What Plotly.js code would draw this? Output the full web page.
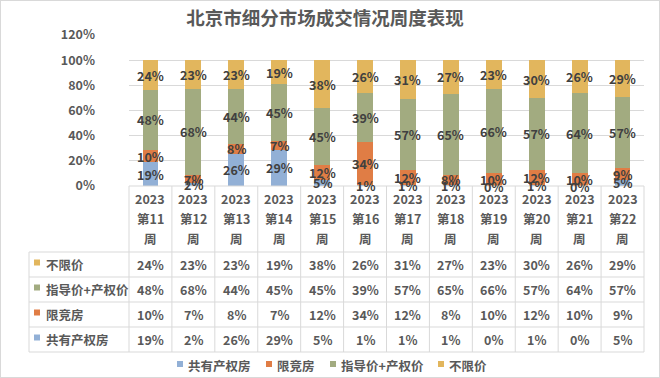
<!DOCTYPE html>
<html><head><meta charset="utf-8">
<script src="https://cdn.plot.ly/plotly-3.0.1.min.js"></script>
<style>
html,body{margin:0;padding:0;background:#fff}
#wrap{position:relative;width:660px;height:378px}
#frame{position:absolute;left:0;top:0;width:660px;height:378px;box-sizing:border-box;border:1px solid #D9D9D9;pointer-events:none}
</style>
</head><body><div id="wrap"><div id="chart"></div><div id="frame"></div></div>
<script>
// ---- data ----
const categories = ['2023第11周','2023第12周','2023第13周','2023第14周','2023第15周','2023第16周','2023第17周','2023第18周','2023第19周','2023第20周','2023第21周','2023第22周'];
const seriesNames = ['共有产权房','限竞房','指导价+产权价','不限价'];
const gongyou  = [19, 2,26,29, 5, 1, 1, 1, 0, 1, 0, 5];
const xianjing = [10, 7, 8, 7,12,34,12, 8,10,12,10, 9];
const zhidao   = [48,68,44,45,45,39,57,65,66,57,64,57];
const buxian   = [24,23,23,19,38,26,31,27,23,30,26,29];
const yTicks = [0,20,40,60,80,100,120];

// ---- style ----
const colors = ['#92B0D6','#E07D45','#A2AB80','#E2B65D'];
const FONT = '"Noto Sans CJK SC","Noto Sans",sans-serif';
const W=660,H=378,mL=129,mR=16,mT=35,mB=192;
const pw=W-mL-mR, ph=H-mT-mB;
const px2x = p => (p-mL)/pw;
const py2y = p => (H-mB-p)/ph;
const lineCol = '#D9D9D9';
const txtCol = '#595959';

const seriesVals = [gongyou, xianjing, zhidao, buxian];
const idx = categories.map((c,i)=>i);

const traces = seriesVals.map((vals,k)=>({
  type:'bar', x: idx, y: vals, name: seriesNames[k],
  marker:{color:colors[k], line:{width:0}}, hoverinfo:'skip', showlegend:false
}));

const annotations = [];
const shapes = [];

// data labels inside segments
idx.forEach(i=>{
  const total = seriesVals.reduce((s,v)=>s+v[i],0);
  let cum = 0;
  seriesVals.forEach((vals,k)=>{
    const v = vals[i];
    annotations.push({xref:'x', yref:'y', x:i, y:(cum+v/2)/total*100, text:v+'%', showarrow:false,
      font:{family:FONT,size:12.5,color:'#404040',weight:'bold'}, xanchor:'center', yanchor:'middle'});
    cum += v;
  });
});

// table header (category labels)
const headerY = [198,218,238];
categories.forEach((c,i)=>{
  const m = c.match(/^(\d{4})(第\d+)(周)$/);
  [m[1],m[2],m[3]].forEach((t,j)=>{
    annotations.push({xref:'x', yref:'paper', x:i, y:py2y(headerY[j]), text:t, showarrow:false,
      font:{family:FONT,size:12.5,color:txtCol,weight:'bold'}, xanchor:'center', yanchor:'middle'});
  });
});

// table rows (top to bottom: 不限价, 指导价+产权价, 限竞房, 共有产权房)
const rowCenters = [264.5,289.5,314.5,339.5];
const rowOrder = [3,2,1,0];
rowOrder.forEach((k,r)=>{
  const yc = py2y(rowCenters[r]);
  shapes.push({type:'rect', xref:'paper', yref:'paper', x0:px2x(34), x1:px2x(40), y0:py2y(rowCenters[r]-5), y1:py2y(rowCenters[r]+1), fillcolor:colors[k], line:{width:0}});
  annotations.push({xref:'paper', yref:'paper', x:px2x(44), y:yc, text:seriesNames[k], showarrow:false,
    font:{family:FONT,size:12.5,color:txtCol,weight:'bold'}, xanchor:'left', yanchor:'middle'});
  seriesVals[k].forEach((v,i)=>{
    annotations.push({xref:'x', yref:'paper', x:i, y:yc, text:v+'%', showarrow:false,
      font:{family:FONT,size:12.5,color:txtCol,weight:'bold'}, xanchor:'center', yanchor:'middle'});
  });
});

// table grid lines
for(let c=0;c<=categories.length;c++){
  shapes.push({type:'line', xref:'paper', yref:'paper', x0:c/categories.length, x1:c/categories.length, y0:py2y(186), y1:py2y(352), line:{color:lineCol,width:1}});
}
shapes.push({type:'line', xref:'paper', yref:'paper', x0:px2x(29), x1:px2x(29), y0:py2y(252), y1:py2y(352), line:{color:lineCol,width:1}});
[252,277,302,327,352].forEach(p=>{
  shapes.push({type:'line', xref:'paper', yref:'paper', x0:px2x(29), x1:1, y0:py2y(p), y1:py2y(p), line:{color:lineCol,width:1}});
});
shapes.push({type:'line', xref:'paper', yref:'paper', x0:0, x1:1, y0:0, y1:0, line:{color:lineCol,width:1}});

// legend (bottom)
const legendSq = [177,266,330,438];
const legendY = 365;
seriesNames.forEach((n,k)=>{
  shapes.push({type:'rect', xref:'paper', yref:'paper', x0:px2x(legendSq[k]), x1:px2x(legendSq[k]+6), y0:py2y(legendY-4), y1:py2y(legendY+2), fillcolor:colors[k], line:{width:0}});
  annotations.push({xref:'paper', yref:'paper', x:px2x(legendSq[k]+9), y:py2y(legendY), text:n, showarrow:false,
    font:{family:FONT,size:12.5,color:txtCol,weight:'bold'}, xanchor:'left', yanchor:'middle'});
});

const layout = {
  width:W, height:H, margin:{l:mL,r:mR,t:mT,b:mB,pad:0},
  paper_bgcolor:'#fff', plot_bgcolor:'#fff',
  title:{text:'北京市细分市场成交情况周度表现', x:325/W, xanchor:'center', y:1-19/H, yanchor:'middle', yref:'container',
    font:{family:FONT,size:18.5,color:txtCol,weight:'bold'}},
  barmode:'stack', barnorm:'percent', bargap:0.63,
  xaxis:{type:'linear', range:[-0.5,categories.length-0.5], showticklabels:false, showgrid:false, zeroline:false, showline:false, ticks:'', fixedrange:true},
  yaxis:{range:[0,120], tickvals:yTicks, ticktext:yTicks.map(v=>v+'%'), showgrid:true, gridcolor:lineCol, gridwidth:1,
    zeroline:false, showline:false, ticks:'', ticklabelstandoff:33,
    tickfont:{family:FONT,size:12.5,color:txtCol,weight:'bold'}, fixedrange:true},
  annotations, shapes, hovermode:false, showlegend:false
};
Plotly.newPlot('chart', traces, layout, {displayModeBar:false, staticPlot:true});
</script>
</body></html>
